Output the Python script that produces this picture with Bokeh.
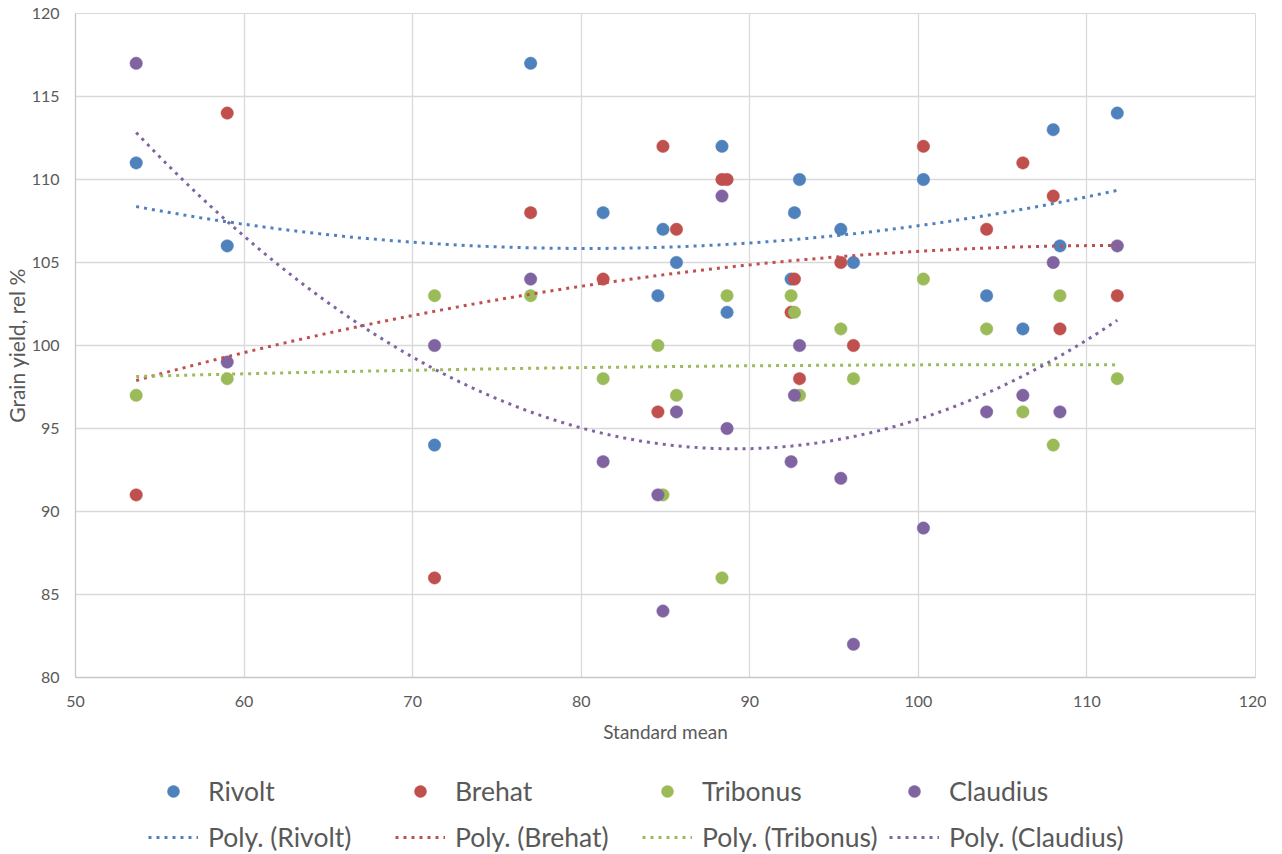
import numpy as np
from bokeh.plotting import figure
from bokeh.layouts import column
from bokeh.models import Range1d, FixedTicker, Legend, LegendItem
from bokeh.embed import file_html
from bokeh.resources import INLINE

# ---- data ----
standard_mean = [53.6, 59.0, 71.3, 77.0, 81.3, 84.55, 84.85, 85.65, 88.35, 88.65,
                 92.45, 92.65, 92.95, 95.4, 96.15, 100.3, 104.05, 106.2, 108.0, 108.4, 111.8]
rivolt   = [111, 106, 94, 117, 108, 103, 107, 105, 112, 102, 104, 108, 110, 107, 105, 110, 103, 101, 113, 106, 114]
brehat   = [91, 114, 86, 108, 104, 96, 112, 107, 110, 110, 102, 104, 98, 105, 100, 112, 107, 111, 109, 101, 103]
tribonus = [97, 98, 103, 103, 98, 100, 91, 97, 86, 103, 103, 102, 97, 101, 98, 104, 101, 96, 94, 103, 98]
claudius = [117, 99, 100, 104, 93, 91, 84, 96, 109, 95, 93, 97, 100, 92, 82, 89, 96, 97, 105, 96, 106]

series_names = ["Rivolt", "Brehat", "Tribonus", "Claudius"]
series_values = [rivolt, brehat, tribonus, claudius]
series_colors = ["#4F81BD", "#C0504D", "#9BBB59", "#8064A2"]

x_ticks = [50, 60, 70, 80, 90, 100, 110, 120]
y_ticks = [80, 85, 90, 95, 100, 105, 110, 115, 120]

FONT = "Lato"
TXT = "#595959"
MARKER_SIZE = 12.5
TREND_WIDTH = 3
TREND_DASH = "3 5"

W = 1266
H1 = 752
H2 = 102

p = figure(width=W, height=H1, output_backend="svg", toolbar_location=None,
           x_range=Range1d(50, 120), y_range=Range1d(80, 120),
           min_border_left=67, min_border_right=11, min_border_top=13, min_border_bottom=75,
           x_axis_label="Standard mean", y_axis_label="Grain yield, rel %")

p.outline_line_color = "#D9D9D9"
p.background_fill_color = "white"
p.border_fill_color = "white"

for g in (p.xgrid, p.ygrid):
    g.grid_line_color = "#D9D9D9"
    g.grid_line_width = 1.3

p.xaxis.ticker = FixedTicker(ticks=x_ticks)
p.yaxis.ticker = FixedTicker(ticks=y_ticks)
for ax in (p.xaxis, p.yaxis):
    ax.axis_line_color = "#C8C8C8"
    ax.axis_line_width = 1.3
    ax.major_tick_line_color = None
    ax.minor_tick_line_color = None
    ax.major_tick_out = 0
    ax.major_tick_in = 0
    ax.major_label_text_font = FONT
    ax.major_label_text_font_size = "16px"
    ax.major_label_text_color = TXT
    ax.axis_label_text_font = FONT
    ax.axis_label_text_font_style = "normal"
    ax.axis_label_text_color = TXT

p.xaxis.axis_label_text_font_size = "19px"
p.yaxis.axis_label_text_font_size = "21px"
p.xaxis.major_label_standoff = 18
p.xaxis.axis_label_standoff = 10
p.yaxis.major_label_standoff = 16
p.yaxis.axis_label_standoff = 0

for name, vals, col in zip(series_names, series_values, series_colors):
    p.scatter(standard_mean, vals, size=MARKER_SIZE, fill_color=col, line_color=col,
              line_width=0.5, marker="circle")

xs_arr = np.array(standard_mean, dtype=float)
xfit = np.linspace(xs_arr.min(), xs_arr.max(), 200)
for name, vals, col in zip(series_names, series_values, series_colors):
    coef = np.polyfit(xs_arr, np.array(vals, dtype=float), 2)
    yfit = np.polyval(coef, xfit)
    p.line(xfit, yfit, line_color=col, line_width=TREND_WIDTH, line_dash=TREND_DASH)

# ---- legend strip below the chart (its frame is aligned with the chart frame) ----
p2 = figure(width=W, height=H2, output_backend="svg", toolbar_location=None,
            x_range=Range1d(0, 100), y_range=Range1d(0, 100),
            min_border_left=0, min_border_right=0, min_border_top=0, min_border_bottom=0)
p2.axis.visible = False
p2.grid.visible = False
p2.outline_line_color = None
p2.background_fill_color = "white"
p2.border_fill_color = "white"

# proxy renderers (placed outside the visible range) that only supply legend glyphs
leg_sc = []
leg_ln = []
for col in series_colors:
    leg_sc.append(p2.scatter([-1000], [-1000], size=MARKER_SIZE, fill_color=col, line_color=col,
                             line_width=0.5, marker="circle"))
for col in series_colors:
    leg_ln.append(p2.line([-1000, -999], [-1000, -1000], line_color=col,
                          line_width=TREND_WIDTH, line_dash=TREND_DASH))


def make_legend(labels, renderers, vy):
    items = [LegendItem(label=l, renderers=[r]) for l, r in zip(labels, renderers)]
    lg = Legend(items=items, location=(73, vy), orientation="horizontal",
                glyph_width=50, glyph_height=30, label_height=32, label_width=187,
                label_standoff=10, spacing=0, padding=0, margin=0,
                border_line_alpha=0, background_fill_alpha=0,
                label_text_font=FONT, label_text_font_size="26.5px",
                label_text_color=TXT)
    p2.add_layout(lg)
    return lg


make_legend(series_names, leg_sc, 47)
make_legend(["Poly. (%s)" % n for n in series_names], leg_ln, 1)

layout = column(p, p2, spacing=0)
open("out.html", "w").write(file_html(layout, INLINE))
